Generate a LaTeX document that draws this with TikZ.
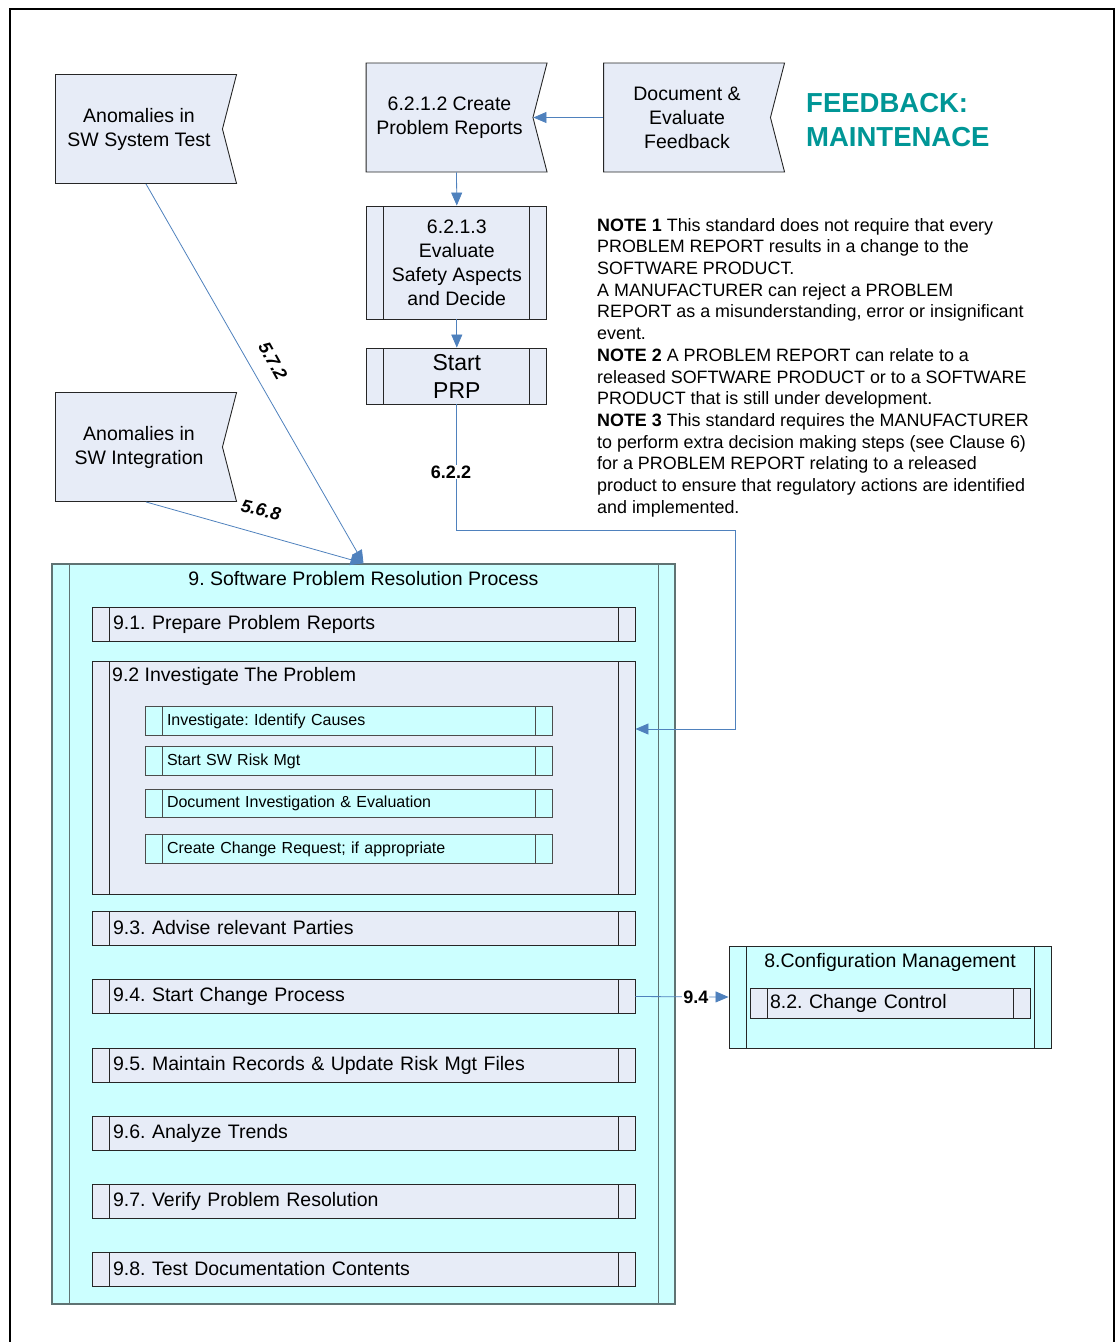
\documentclass[tikz,border=0pt]{standalone}
\usepackage{fontspec}
\setmainfont{Liberation Sans}
\usetikzlibrary{arrows.meta, shapes, positioning}

\definecolor{boxgray}{RGB}{231,236,247}
\definecolor{boxcyan}{RGB}{204,255,255}
\definecolor{lineblue}{RGB}{79,129,189}
\definecolor{bigedge}{RGB}{95,115,115}
\definecolor{fbteal}{RGB}{0,150,150}

\tikzset{
  offpage/.style={signal, signal to=nowhere, signal from=east, signal pointer angle=151,
    draw=black!85, fill=boxgray, line width=0.9pt,
    minimum width=181pt, minimum height=109pt, inner sep=0pt,
    align=center, font=\fontsize{19.5}{24}\selectfont},
  procedge/.style={draw=black!85},
  procbox/.style={draw=black!85, fill=#1, line width=0.9pt, inner ysep=0pt,
    path picture={
      \draw[procedge, line width=0.9pt] ([xshift=17pt]path picture bounding box.north west)
        -- ([xshift=17pt]path picture bounding box.south west);
      \draw[procedge, line width=0.9pt] ([xshift=-17pt]path picture bounding box.north east)
        -- ([xshift=-17pt]path picture bounding box.south east);}},
  stepbox/.style={procbox=boxgray, minimum width=543pt, minimum height=34pt,
    text width=501pt, inner xsep=21pt, align=left,
    font=\fontsize{19.5}{24}\selectfont},
  substep/.style={procbox=boxcyan, procedge/.style={draw=black!70}, draw=black!70,
    minimum width=407pt, minimum height=28.5pt,
    text width=364pt, inner xsep=21.5pt, align=left,
    font=\fontsize{16}{19}\selectfont},
  flow/.style={draw=lineblue, line width=0.8pt, -{Triangle[length=13pt,width=11pt]}},
  clause/.style={font=\bfseries\fontsize{18}{20}\selectfont, inner sep=1pt},
}

\begin{document}
\frenchspacing
\begin{tikzpicture}[x=1pt, y=-1pt]
  \useasboundingbox (0,0) rectangle (1115,1342);
  \draw[line width=1.6pt] (9.8,1342) -- (9.8,8.8) -- (1113.8,8.8) -- (1113.8,1342);

  % top row
  \node[offpage] (ast) at (139,129) {Anomalies in\\SW System Test};
  \node[offpage] (crp) at (449.5,117.5) {6.2.1.2 Create\\Problem Reports};
  \node[offpage] (doc) at (687,117.5) {Document \&\\Evaluate\\Feedback};
  \node[anchor=west, align=left, inner sep=0pt, text=fbteal,
    font=\bfseries\fontsize{27.5}{34}\selectfont] (fbtitle) at (806,120) {FEEDBACK:\\MAINTENACE};

  \node[procbox=boxgray, minimum width=180pt, minimum height=113pt, align=center,
    font=\fontsize{19.5}{24}\selectfont] (eval) at (456.8,262.5)
    {6.2.1.3\\Evaluate\\Safety Aspects\\and Decide};
  \node[procbox=boxgray, minimum width=180pt, minimum height=56pt, align=center,
    font=\fontsize{23}{28}\selectfont] (prp) at (456.8,376) {Start\\PRP};

  \node[anchor=north west, align=left, inner sep=0pt,
    font=\fontsize{17.9}{21.7}\selectfont] (notes) at (597,218)
    {\textbf{NOTE 1} This standard does not require that every\\
     PROBLEM REPORT results in a change to the\\
     SOFTWARE PRODUCT.\\
     A MANUFACTURER can reject a PROBLEM\\
     REPORT as a misunderstanding, error or insignificant\\
     event.\\
     \textbf{NOTE 2} A PROBLEM REPORT can relate to a\\
     released SOFTWARE PRODUCT or to a SOFTWARE\\
     PRODUCT that is still under development.\\
     \textbf{NOTE 3} This standard requires the MANUFACTURER\\
     to perform extra decision making steps (see Clause 6)\\
     for a PROBLEM REPORT relating to a released\\
     product to ensure that regulatory actions are identified\\
     and implemented.};

  \node[offpage] (asi) at (139,447) {Anomalies in\\SW Integration};

  % problem resolution process
  \node[procbox=boxcyan, procedge/.style={draw=bigedge}, draw=bigedge, line width=1.5pt,
    minimum width=623pt, minimum height=740pt] (sprp) at (363.5,934) {};
  \node[font=\fontsize{19.5}{24}\selectfont] (sprptitle) at (363.5,579)
    {9. Software Problem Resolution Process};

  \node[stepbox] (b91) at (363.5,624.5) {9.1. Prepare Problem Reports};
  \node[procbox=boxgray, minimum width=543pt, minimum height=233pt] (b92) at (363.5,777.5) {};
  \node[anchor=west, inner sep=0pt, font=\fontsize{19.5}{24}\selectfont] (b92title) at (112,676)
    {9.2 Investigate The Problem};
  \node[substep] (s1) at (349,721) {Investigate: Identify Causes};
  \node[substep] (s2) at (349,761) {Start SW Risk Mgt};
  \node[substep] (s3) at (349,803.5) {Document Investigation \& Evaluation};
  \node[substep] (s4) at (349,849) {Create Change Request; if appropriate};
  \node[stepbox] (b93) at (363.5,928) {9.3. Advise relevant Parties};
  \node[stepbox] (b94) at (363.5,996.5) {9.4. Start Change Process};
  \node[stepbox] (b95) at (363.5,1065) {9.5. Maintain Records \& Update Risk Mgt Files};
  \node[stepbox] (b96) at (363.5,1133) {9.6. Analyze Trends};
  \node[stepbox] (b97) at (363.5,1201) {9.7. Verify Problem Resolution};
  \node[stepbox] (b98) at (363.5,1269) {9.8. Test Documentation Contents};

  % configuration management
  \node[procbox=boxcyan, minimum width=322pt, minimum height=102pt] (cfg) at (890,997) {};
  \node[font=\fontsize{19.5}{24}\selectfont] (cfgtitle) at (890,962) {8.Configuration Management};
  \node[stepbox, minimum width=280pt, minimum height=30pt, text width=240pt, inner xsep=20pt]
    (cc) at (890,1003) {8.2. Change Control};

  % connectors
  \draw[flow] (doc.west) -- (crp.east);
  \draw[flow] ([xshift=7pt]crp.south) -- (eval.north);
  \draw[flow] (eval.south) -- (prp.north);
  \draw[flow] ([xshift=7pt]ast.south) -- (sprp.north);
  \draw[flow] ([xshift=7pt]asi.south) -- (sprp.north);
  \coordinate (turn) at (735,530);
  \coordinate (entry) at (735,729);
  \draw[flow] (prp.south) -- (prp.south |- turn) -- (turn) -- (entry) -- (entry -| b92.east);
  \draw[flow] (b94.east) -- (cfg.west) node[clause, fill=white, pos=0.65] (l94) {9.4};

  \node[clause, fill=white] (l622) at (451,472) {6.2.2};
  \node[clause, font=\bfseries\itshape\fontsize{18}{20}\selectfont, rotate=-61] (l572) at (273,361) {5.7.2};
  \node[clause, font=\bfseries\itshape\fontsize{18}{20}\selectfont, rotate=-13] (l568) at (261,510) {5.6.8};
\end{tikzpicture}
\end{document}
